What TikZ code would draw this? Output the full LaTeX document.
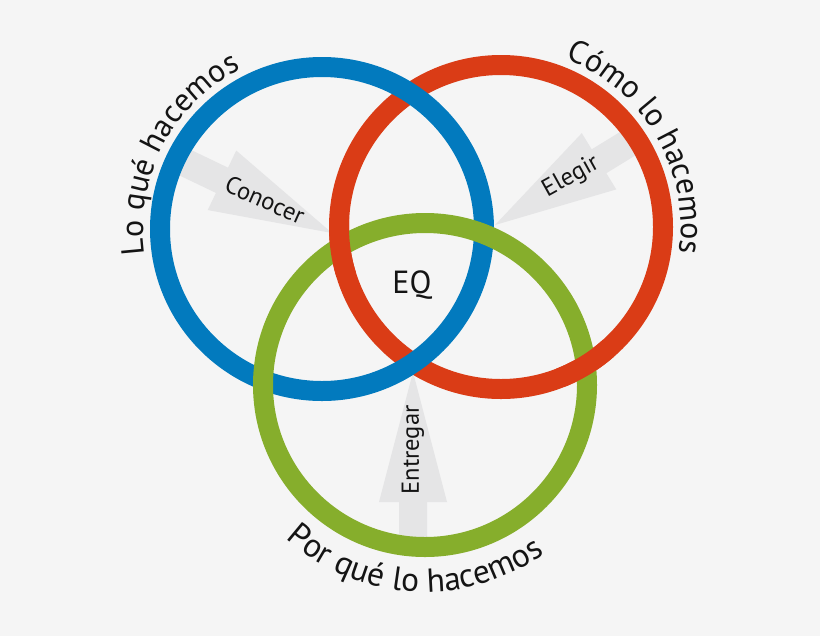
\documentclass[tikz,border=0pt]{standalone}
\usepackage{fontspec}
\setmainfont{PT Sans}
\usetikzlibrary{decorations.text,calc}
\definecolor{ringblue}{RGB}{2,122,190}
\definecolor{ringred}{RGB}{218,60,22}
\definecolor{ringgreen}{RGB}{134,174,44}
\definecolor{arrowgrey}{RGB}{229,229,230}
\definecolor{bggrey}{RGB}{245,245,245}
\definecolor{txt}{RGB}{20,20,20}
\begin{document}
\begin{tikzpicture}[x=0.75pt,y=0.75pt,
  ring/.style={line width=15pt},
  arrowfill/.style={fill=arrowgrey},
  armlabel/.style={font=\fontsize{18.4}{22}\selectfont, text=txt, inner sep=0pt},
  centrelabel/.style={font=\fontsize{24}{28}\selectfont, text=txt, inner sep=0pt}]
\fill[bggrey] (0,0) rectangle (820,-636);
\useasboundingbox (0,0) rectangle (820,-636);
% ring centres
\coordinate (B) at (322,-229);
\coordinate (R) at (501,-227);
\coordinate (G) at (425,-385);
% arrow tips
\coordinate (conocertip) at (332,-233);
\coordinate (elegirtip) at (495,-225);
\coordinate (entregartip) at (413,-372);
% grey arrows
\begin{scope}[shift={(conocertip)}, rotate=-25.6]
  \fill[arrowfill] (0,0) -- (-122,33) -- (-122,14) -- (-178,14) -- (-178,-14) -- (-122,-14) -- (-122,-33) -- cycle;
\end{scope}
\begin{scope}[shift={(elegirtip)}, rotate=211.5]
  \fill[arrowfill] (0,0) -- (-122,33) -- (-122,14) -- (-165,14) -- (-165,-14) -- (-122,-14) -- (-122,-33) -- cycle;
\end{scope}
\begin{scope}[shift={(entregartip)}, rotate=90]
  \fill[arrowfill] (0,0) -- (-130,34) -- (-130,14) -- (-180,14) -- (-180,-14) -- (-130,-14) -- (-130,-34) -- cycle;
\end{scope}
% rings
\draw[ring, ringred] (R) circle[radius=162];
\draw[ring, ringblue] (B) circle[radius=162];
\draw[ring, ringgreen] (G) circle[radius=162];
\begin{scope}
  \clip (340,-247) circle[radius=30] (586,-365) circle[radius=30];
  \draw[ring, ringred] (R) circle[radius=162];
\end{scope}
% labels
\node[armlabel, rotate=-24] (conocer) at (265,-200) {Conocer};
\node[armlabel, rotate=29] (elegir) at (571,-177) {Elegir};
\node[armlabel, rotate=90] (entregar) at (413,-450) {Entregar};
\node[centrelabel] (eq) at (412,-285) {EQ};
% curved titles
\path[decorate, decoration={text along path, text align=center,
  text={|\fontsize{24}{28}\selectfont\color{txt}|Lo qué hacemos}}]
  ($(B)+(202.5:179)$) arc[start angle=202.5, end angle=102.5, radius=179];
\path[decorate, decoration={text along path, text align=center,
  text={|\fontsize{24}{28}\selectfont\color{txt}|Cómo lo hacemos}}]
  ($(R)+(80.4:180)$) arc[start angle=80.4, end angle=-19.6, radius=180];
\path[decorate, decoration={text along path, text align=center,
  text={|\fontsize{25}{29}\selectfont\color{txt}|Por qué lo hacemos}}]
  ($(G)+(216.6:207)$) arc[start angle=216.6, end angle=316.6, radius=207];
\end{tikzpicture}
\end{document}
